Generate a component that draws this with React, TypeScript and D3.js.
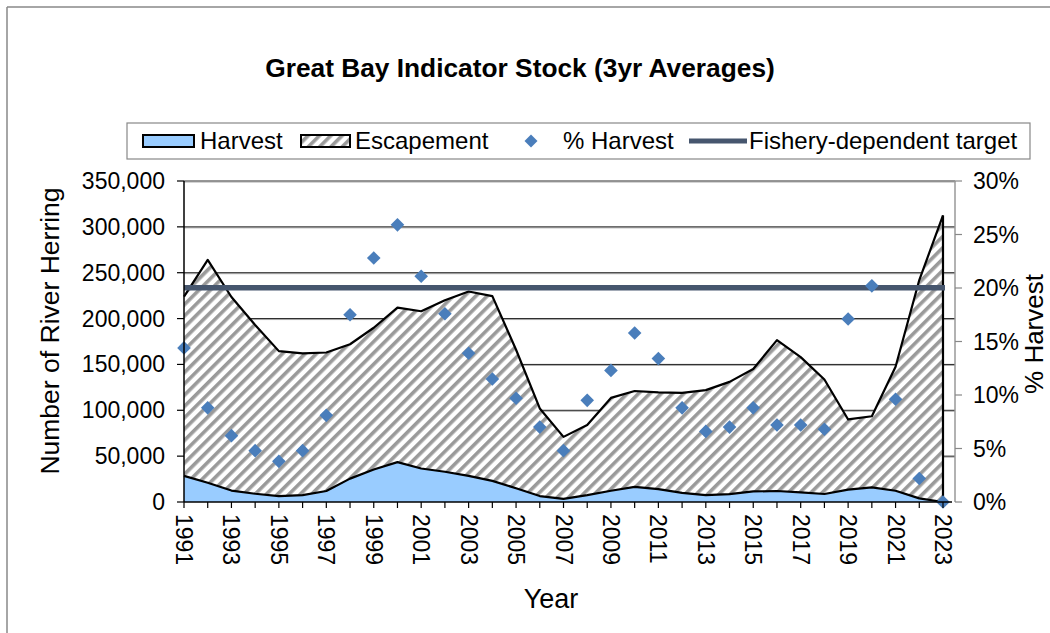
import * as d3 from 'd3';

const years = d3.range(1991, 2024);
// 3yr average harvest (fish)
const harvest = [
  28500, 21000, 12500, 9000, 6500, 7500, 12000, 25500, 35500, 43500, 36500,
  33000, 28500, 23000, 15000, 6500, 3500, 7500, 12300, 16500, 14000, 10000,
  7500, 8500, 11500, 12000, 10500, 8700, 13500, 16000, 12300, 4000, 0,
];
// 3yr average escapement (stacked on top of harvest)
const escapement = [
  195500, 243000, 211000, 184000, 158000, 154500, 151000, 146500, 154500,
  168500, 171500, 187000, 201000, 201500, 151000, 95500, 67500, 76500, 101200,
  104500, 105500, 109000, 114500, 122500, 133500, 164500, 147500, 124800,
  76500, 77500, 135200, 238000, 312500,
];
// % harvest, right axis
const pctHarvest = [
  0.144, 0.088, 0.062, 0.048, 0.038, 0.048, 0.081, 0.175, 0.228, 0.259, 0.211,
  0.176, 0.139, 0.115, 0.097, 0.07, 0.048, 0.095, 0.123, 0.158, 0.134, 0.088,
  0.066, 0.07, 0.088, 0.072, 0.072, 0.068, 0.171, 0.202, 0.096, 0.022, 0,
];
const target = 233500;
const leftTicks = d3.range(0, 350001, 50000);
const rightTicks = d3.range(0, 0.301, 0.05);
const labelYears = years.filter((y) => (y - 1991) % 2 === 0);

const W = 1050;
const H = 633;
const font = '"Liberation Sans", Arial, sans-serif';

export default function App() {
  const left = 184;
  const right = 955;
  const top = 181;
  const bottom = 502;

  const x = d3.scalePoint<number>().domain(years).range([left, 943]);
  const y = d3.scaleLinear().domain([0, 350000]).range([bottom, top]);
  const yR = d3.scaleLinear().domain([0, 0.3]).range([bottom, top]);

  const rows = years.map((yr, i) => ({ yr, h: harvest[i], e: escapement[i] }));

  const harvestArea = d3
    .area<any>()
    .x((d) => x(d.yr)!)
    .y0(y(0))
    .y1((d) => y(d.h));
  const escArea = d3
    .area<any>()
    .x((d) => x(d.yr)!)
    .y0((d) => y(d.h))
    .y1((d) => y(d.h + d.e));
  const harvestLine = d3
    .line<any>()
    .x((d) => x(d.yr)!)
    .y((d) => y(d.h));
  const totalLine = d3
    .line<any>()
    .x((d) => x(d.yr)!)
    .y((d) => y(d.h + d.e));

  const last = rows[rows.length - 1];
  const diamond = (cx: number, cy: number, r: number) =>
    `M${cx},${cy - r}L${cx + r},${cy}L${cx},${cy + r}L${cx - r},${cy}Z`;

  return (
    <svg
      width={W}
      height={H}
      style={{ position: 'absolute', left: 0, top: 0, display: 'block' }}
      fontFamily={font}
    >
      <defs>
        <pattern id="hatch" patternUnits="userSpaceOnUse" width="8" height="8" patternTransform="rotate(45)">
          <rect width="8" height="8" fill="#fff" />
          <rect width="3.6" height="8" fill="#9a9a9a" />
        </pattern>
      </defs>
      <rect x={0} y={0} width={W} height={H} fill="#fff" />
      <line x1={7} x2={W} y1={7} y2={7} stroke="#888" strokeWidth={1.5} />
      <line x1={7} x2={7} y1={7} y2={H} stroke="#888" strokeWidth={1.5} />

      <text x={520} y={77} textAnchor="middle" fontWeight="bold" fontSize={26.3}>
        Great Bay Indicator Stock (3yr Averages)
      </text>

      {/* legend */}
      <rect x={127} y={123} width={903} height={36} fill="#fff" stroke="#888" strokeWidth={1.2} />
      <rect x={143} y={135} width={51} height={12} fill="#99CCFF" stroke="#000" strokeWidth={2} />
      <text x={200} y={149} fontSize={24}>Harvest</text>
      <rect x={301} y={135} width={49} height={12} fill="url(#hatch)" stroke="#000" strokeWidth={2} />
      <text x={355} y={149} fontSize={24}>Escapement</text>
      <path d={diamond(531, 141, 6.5)} fill="#4A7EBB" />
      <text x={563} y={149} fontSize={24}>% Harvest</text>
      <line x1={689} x2={747} y1={141} y2={141} stroke="#46566E" strokeWidth={5} />
      <text x={749} y={149} fontSize={24}>Fishery-dependent target</text>

      {/* gridlines */}
      {leftTicks.slice(1).map((t) => (
        <g key={t}>
          <line x1={left} x2={right} y1={y(t) + 1} y2={y(t) + 1} stroke="#aaa" strokeWidth={1} />
          <line x1={left} x2={right} y1={y(t)} y2={y(t)} stroke="#222" strokeWidth={1} />
        </g>
      ))}
      <line x1={left} x2={right} y1={top} y2={top} stroke="#999" strokeWidth={1.5} />
      <line x1={right} x2={right} y1={top} y2={bottom} stroke="#999" strokeWidth={1.5} />

      {/* stacked areas */}
      <path d={escArea(rows)!} fill="url(#hatch)" />
      <path d={harvestArea(rows)!} fill="#99CCFF" />
      <path d={totalLine(rows)!} fill="none" stroke="#000" strokeWidth={2.2} strokeLinejoin="round" />
      <path d={harvestLine(rows)!} fill="none" stroke="#000" strokeWidth={2.2} strokeLinejoin="round" />
      <line x1={x(last.yr)} x2={x(last.yr)} y1={y(last.h + last.e)} y2={bottom} stroke="#000" strokeWidth={2.2} />

      {/* target line */}
      <line x1={left} x2={x(2023)! + 2} y1={y(target)} y2={y(target)} stroke="#46566E" strokeWidth={5.5} />

      {/* % harvest */}
      {years.map((yr, i) => (
        <path key={yr} d={diamond(x(yr)!, yR(pctHarvest[i]), 6.8)} fill="#4A7EBB" />
      ))}

      {/* left axis */}
      <line x1={left} x2={left} y1={top} y2={bottom} stroke="#000" strokeWidth={1.5} />
      {leftTicks.map((t) => (
        <g key={t}>
          <line x1={left - 7} x2={left} y1={y(t)} y2={y(t)} stroke="#000" strokeWidth={1.2} />
          <text x={165} y={y(t) + 8} textAnchor="end" fontSize={23}>
            {d3.format(',')(t)}
          </text>
        </g>
      ))}
      <text transform={`translate(59,${331}) rotate(-90)`} textAnchor="middle" fontSize={26.5}>
        Number of River Herring
      </text>

      {/* right axis */}
      {rightTicks.map((t) => (
        <g key={t}>
          <line x1={right} x2={right + 7} y1={yR(t)} y2={yR(t)} stroke="#888" strokeWidth={1.2} />
          <text x={973} y={yR(t) + 8} fontSize={23}>
            {d3.format('.0%')(t)}
          </text>
        </g>
      ))}
      <text transform={`translate(1043,${334}) rotate(-90)`} textAnchor="middle" fontSize={26}>
        % Harvest
      </text>

      {/* x axis */}
      <line x1={left} x2={right - 3} y1={bottom} y2={bottom} stroke="#000" strokeWidth={1.5} />
      {years.map((yr) => (
        <line key={yr} x1={x(yr)} x2={x(yr)} y1={bottom} y2={bottom + 6} stroke="#000" strokeWidth={1.2} />
      ))}
      {labelYears.map((yr) => (
        <text key={yr} transform={`translate(${x(yr)! - 8},${514}) rotate(90)`} fontSize={23}>
          {yr}
        </text>
      ))}
      <text x={551} y={608} textAnchor="middle" fontSize={27}>
        Year
      </text>
    </svg>
  );
}
